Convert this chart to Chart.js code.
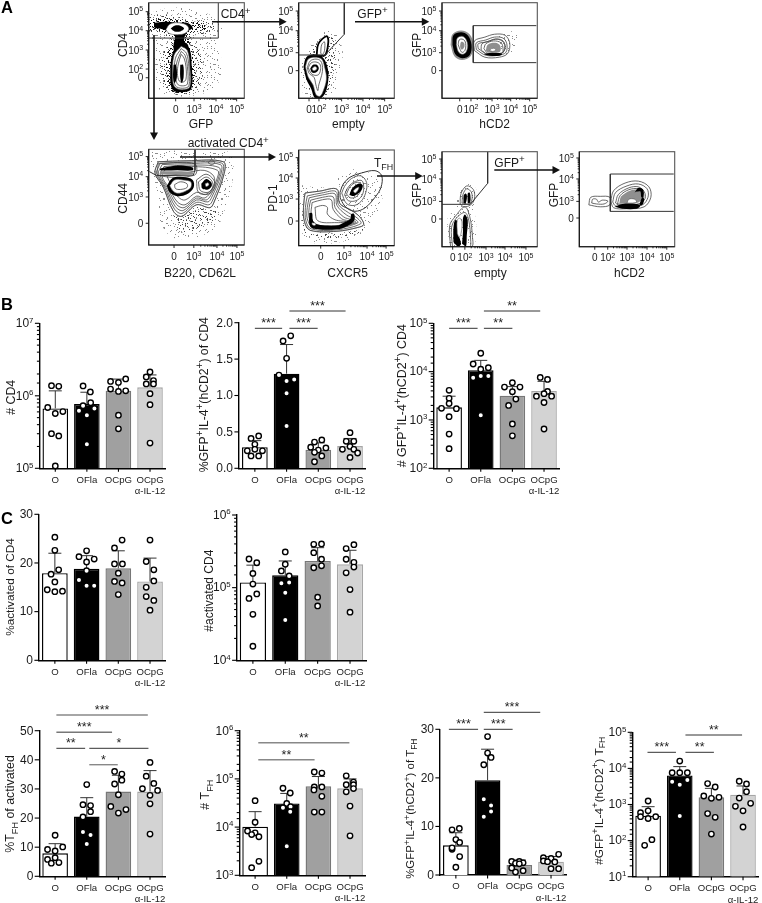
<!DOCTYPE html>
<html><head><meta charset="utf-8">
<style>html,body{margin:0;padding:0;background:#fff;width:762px;height:903px;overflow:hidden;position:relative}canvas{position:absolute;display:block}</style>
<script src="https://cdn.jsdelivr.net/npm/chart.js@4"></script>
</head><body>
<script>
// ---------- bar panel data ----------
const categories=['O','OFla','OCpG',['OCpG','α-IL-12']];
const b1Means=[6.7e5,7.7e5,1.17e6,1.31e6];
const b1Tops=[1.17e6,1.12e6,1.7e6,1.94e6];
const b1Dots=[[1.38e6,1.35e6,6.9e5,6.05e5,5.7e5,3.0e5,2.8e5,1.08e5],[1.37e6,1.13e6,8.05e5,7.3e5,6.7e5,6.2e5,5.4e5,2.14e5],[1.58e6,1.53e6,1.71e6,1.24e6,1.15e6,1.17e6,5.4e5,3.5e5],[2.13e6,1.82e6,1.62e6,1.46e6,1.46e6,1.07e6,7.55e5,2.23e5]];
const b1Offs=[[-.12,.11,-.24,.24,0,-.12,.11,0],[-.12,.11,.12,-.12,.24,-.25,0,0],[-.25,0,.23,-.25,0,.23,0,0],[0,-.12,.11,-.12,.11,0,0,0]];
const b2Means=[.29,1.30,.255,.305];
const b2Tops=[.38,1.70,.35,.41];
const b2Dots=[[.41,.445,.33,.24,.26,.24,.17,.17],[1.82,1.75,1.51,1.28,1.20,1.22,1.03,.58],[.39,.36,.29,.28,.25,.22,.17,.09],[.49,.37,.37,.26,.30,.26,.21,.15]];
const b2Offs=[[-.12,.12,0,-.24,0,.24,-.12,.12],[.13,-.11,0,-.24,0,.24,0,0],[.11,-.12,-.24,.24,0,-.12,.11,-.12],[0,-.12,.12,-.24,0,.12,.24,0]];
const b3Means=[1.83e3,1.07e4,3.18e3,3.98e3];
const b3Tops=[3.1e3,1.71e4,4.9e3,6.3e3];
const b3Dots=[[4.1e3,2.8e3,1.74e3,2.2e3,1.71e3,1.17e3,5.1e2,2.55e2],[2.4e4,1.44e4,1.12e4,1.21e4,7.5e3,8.1e3,8.1e3,1.25e3],[5.9e3,4.8e3,4.8e3,3.85e3,2.7e3,2.0e3,8.3e2,4.7e2],[7.6e3,6.9e3,3.9e3,3.1e3,3.5e3,3.1e3,2.3e3,6.5e2]];
const b3Offs=[[0,0,-.24,0,.23,0,0,0],[0,-.24,0,.24,-.24,0,.24,0],[0,-.25,.24,0,.11,-.12,0,0],[-.12,.11,.11,-.24,0,.24,0,0]];
const c1Means=[17.9,18.8,18.9,16.2];
const c1Tops=[22,21.5,22.5,21];
const c1Dots=[[25.3,22.6,18.6,17.7,16.1,14.5,14.1,14.2],[22.5,21.3,20.8,20.2,18.4,16.5,15.3,15.3],[24.7,23.1,19.8,19.8,17.9,16.2,15.9,13.5],[24.7,20.3,18.6,16.3,15,13.1,12.3,10.3]];
const c1Offs=[[0,0,.12,-.12,0,-.24,0,.24],[0,-.24,.24,0,0,-.24,0,.24],[.12,-.12,-.12,.13,0,-.12,.12,0],[0,-.12,.12,.12,-.12,-.12,.12,0]];
const c2Means=[1.18e5,1.48e5,2.33e5,2.1e5];
const c2Tops=[2.04e5,2.33e5,3.55e5,3.27e5];
const c2Dots=[[2.48e5,2.2e5,1.57e5,1.12e5,8.2e4,7.1e4,4.3e4,1.56e4],[3.1e5,2.1e5,1.7e5,1.45e5,1.15e5,1.18e5,8.5e4,3.6e4],[3.95e5,4e5,3.03e5,2.46e5,1.88e5,2e5,7.4e4,5.6e4],[3.9e5,3.45e5,2.46e5,2.23e5,1.92e5,1.6e5,9.4e4,4.6e4]];
const c2Offs=[[-.12,.12,0,0,.12,-.12,0,0],[0,0,-.12,.12,-.12,.12,0,0],[-.12,.12,-.12,.12,-.12,.12,0,0],[.12,-.12,-.12,.12,.12,-.12,0,0]];
const d1Means=[7.9,20.5,29.1,29.1];
const d1Tops=[11.2,27,34.7,36.3];
const d1Dots=[[14.1,10.1,9.2,8.7,5.8,6.4,4.5,4.7],[31.5,24.6,24.3,22.2,20.4,15.2,14.2,11.1],[36,35.1,33,31.7,28,24,22.9,21.7],[39.1,34.4,31.9,30.1,29.5,27.8,24.9,14.5]];
const d1Offs=[[0,.24,-.24,0,-.24,0,-.12,.12],[0,-.12,.12,.12,-.12,-.12,.12,0],[-.12,.11,.11,-.12,0,-.24,.24,0],[0,-.12,.12,-.24,.24,0,0,0]];
const d2Means=[1.02e4,3.1e4,7e4,6.4e4];
const d2Tops=[2.09e4,5e4,1.12e5,1e5];
const d2Dots=[[3.53e4,1.26e4,8.3e3,7.6e3,7e3,6.3e3,1.95e3,1.44e3],[6.4e4,5.1e4,3.1e4,2.53e4,2.65e4,2.09e4,4e3],[1.39e5,1.32e5,6.8e4,6.8e4,5.9e4,4.34e4,2.05e4,2.05e4],[1.16e5,7.6e4,8.6e4,7.6e4,6.3e4,5.4e4,2.73e4,6.6e3]];
const d2Offs=[[0,0,-.24,0,-.11,.12,.12,-.11],[-.12,.11,0,-.12,.12,.11,0],[-.13,.11,-.13,.11,-.14,.11,-.13,.11],[-.12,-.12,.11,.11,.11,-.12,0,0]];
const d3Means=[6.1,19.5,2.06,2.75];
const d3Tops=[8.7,25.9,3.1,3.8];
const d3Dots=[[9.3,9.6,7.3,5.3,5.6,6.7,3.8,1.6],[28.5,25.1,24.2,22.7,15.6,14.3,13.1,12],[2.8,2.8,2.5,2.4,2.3,.9,.6,1.45],[4.25,3.55,3.4,2.9,2.75,2.7,1.3,1.3]];
const d3Offs=[[-.12,.11,0,-.12,-.12,.12,.12,0],[0,0,.11,-.12,-.12,.11,.11,-.12],[-.24,0,.12,-.12,0,.12,-.12,-.24],[.24,-.24,0,-.24,-.11,.12,0,.24]];
const d4Means=[4.9e2,6.4e3,1.58e3,1.87e3];
const d4Tops=[8.7e2,1.12e4,2.8e3,3.26e3];
const d4Dots=[[1.25e3,6.7e2,5.9e2,4.6e2,4.1e2,4.6e2,1.06e2,7.4e1],[1.6e4,7.6e3,7.6e3,7.6e3,4.3e3,3.55e3,4.8e3,4.8e2],[3.8e3,3.05e3,1.72e3,1.48e3,1.58e3,5.6e2,4.4e2,1.52e2],[4.4e3,3.7e3,2.27e3,1.51e3,1.08e3,8.9e2,6.7e2,2.38e2]];
const d4Offs=[[0,0,-.24,-.24,0,.24,.12,-.11],[0,-.24,0,.24,-.24,0,.24,0],[-.12,.12,-.24,0,.24,-.12,.12,0],[-.12,.11,.11,-.12,.24,-.24,0,0]];

// ---------- flow cytometry panels: contour outlines, in percent of each axis ----------
const sup={2:'10^2',3:'10^3',4:'10^4',5:'10^5'};
const a1XTicks=[[28.2,'0'],[47.4,sup[3]],[70.4,sup[4]],[92,sup[5]]];
const a1YTicks=[[21.5,'0'],[30.6,sup[2]],[50.5,sup[3]],[70.7,sup[4]],[90.6,sup[5]]];
const a2XTicks=[[10.8,'0'],[21.2,sup[2]],[44.9,sup[3]],[67.2,sup[4]],[89.9,sup[5]]];
const a2YTicks=[[28.9,'0'],[47.7,sup[3]],[70.7,sup[4]],[91.3,sup[5]]];
const a3XTicks=[[18.6,'0'],[30.4,sup[2]],[52.5,sup[3]],[72.1,sup[4]],[92,sup[5]]];
const a3YTicks=[[28.9,'0'],[47.7,sup[3]],[70.7,sup[4]],[91.3,sup[5]]];
const a4XTicks=[[26.5,'0'],[47.2,sup[3]],[71.4,sup[4]],[92.3,sup[5]]];
const a4YTicks=[[22.7,'0'],[50.2,sup[3]],[71.4,sup[4]],[92.4,sup[5]]];
const a5XTicks=[[23,'0'],[47.4,sup[3]],[71.5,sup[4]],[91.4,sup[5]]];
const a5YTicks=[[25.7,'0'],[48.7,sup[3]],[70.7,sup[4]],[92,sup[5]]];
const a6XTicks=[[11.2,'0'],[24,sup[2]],[46.2,sup[3]],[66.1,sup[4]],[88.1,sup[5]]];
const a6YTicks=[[29.2,'0'],[47.7,sup[3]],[71.3,sup[4]],[92.3,sup[5]]];
const a7XTicks=[[16.2,'0'],[29.8,sup[2]],[50,sup[3]],[71,sup[4]],[91.7,sup[5]]];
const a7YTicks=[[30.2,'0'],[47.7,sup[3]],[71.3,sup[4]],[93.4,sup[5]]];

const a1Layers=[
['d1',[0,89,25,95,50,92,70,84,78,72,72,62,76,40,74,18,60,6,40,2,18,4,8,15,5,38,8,58,0,62]],
['d2',[0,86,22,88,42,82,66,80,68,70,45,65,46,60,55,45,55,15,42,5,25,5,14,18,13,42,22,62,8,68,0,70]],
['d3',[0,82,20,84,38,81,58,78,62,73,44,68,42,62,47,45,47,14,38,6,25,7,19,20,19,45,26,62,12,70,0,72]],
['k',[6,79,20,80,30,79,40,79,46,74,40,69,37,60,41,56,42,45,28,45,26,55,27,66,15,72,6,74]],
['k',[34,57,25,47,22.5,24,25,9,35,6.5,44.5,10,45,34,42.5,52]],
['w',[34,54.5,26.5,45,25,23,27,12,35,9,43,12,43,33,40.5,50]],
['l',[34,52,28,42,26.5,23,28,13,35,10.5,42,13,42,33,39.5,47]],
['l',[34,49,29.5,38,28,24,30,15,35,13,40.5,15,40.5,33,38,45]],
['l',[34,46,31,36,30,26,32,18,36,17,39,20,39,33,37,42]],
['k',[26,35,28.5,35,29.5,22,27,16,25.5,22]],
['k',[33,35,36,35,36.5,22,34.5,16,33,22]],
['w',[18,72,22,77.5,30,79,39,77,42,72.5,38,68,30,66.5,21,68]],
['k',[23,73,27,76,33,76,37,73,33,70,27,70]],
['gate',[0,63,72.8,63,72.8,100]]];
const a2Layers=[
['d1',[3,40,12,55,19,65,36,70,46,50,42,25,38,8,25,0,8,0,2,20]],
['d2',[8,42,16,56,22,62,34,66,38,50,37,30,31,6,20,2,10,10,6,28]],
['W',[18.8,45,20.6,57,29.3,65,31,59,27.5,45]],
['l',[23,47,24,56,27,59,27,50,25,46]],
['k',[5,33,8,43,16,46,25,43,30,33,31,20,28,6,23,0,17,0,13,10,8,20]],
['w',[7,33,10,41,17,43,24,41,27,33,29,20,25,6,22,2,18,4,15,14,10,22]],
['l',[9,32,12,39,18,41,23,39,25,32,24,24,21,14,20,8,18,14,16,22,11,26]],
['l',[10,32,13,37,18,38,22,36,23,31,21,25,17,24,13,26]],
['k',[12,31,15,35,19,35,21,31,18,27,14,27]],
['w',[14,31,16,33,18,33,19,31,17,29,15,29]],
['gate',[47.7,100,47.7,67,27.5,45.3,0,45.3]]];
const a3Layers=[
['g',[9,56,11,67,20,71,29,67,33,56,30,44,21,40,13,44]],
['k',[11,56,12,66,20,69,27,66,31,56,29,45,21,42,14,46]],
['w',[15,56,16,63,21,65,25,62,27,55,25,48,21,46,17,49]],
['l',[17,56,18,61,21,62,24,60,25,55,24,50,21,48,19,51]],
['g',[19,55,20,59,23,58,23.5,54,21,51,19.5,52]],
['d1',[60,50,70,46,78,55,79,68,70,70,60,65]],
['l',[34,50,34,60,45,64,55,67,66,66,71,58,69,47,60,43,45,43]],
['l',[36,51,36,58,46,61,55,64,64,63,68,57,67,48,59,45,46,45]],
['l',[38,52,38,57,47,59,56,62,63,60,66,56,65,49,58,46.5,47,46.5]],
['l',[41,51,42,57,50,60,58,62,64,60,66,54,63,47,57,46,47,46]],
['l',[44,52,46,57,54,60,62,58,64,52,63,47,56,46,48,47]],
['g',[46,50,48,56,56,58,61,55,61,49,55,48,48,48]],
['w',[50,50,52,52,56,52,56,50,53,49]],
['k',[44,46,50,44.5,60,44.5,63,46,60,47.5,50,47.5]],
['gate',[99,76,32.8,76,32.8,37.3,99,37.3]]];
const a4Layers=[
['d1',[0,97,15,99,50,97,85,97,88,70,82,45,72,20,50,8,25,8,12,25,10,50,3,80]],
['d2',[24,32,30,18,40,12,52,18,66,24,72,40,64,36,50,40,34.5,28,26,33]],
['w',[10,87,40,88,78,87,79,75,68,44,64,39,50,42,34.5,30,26,35,15,61,6.6,75]],
['l',[10,87,40,88,78,87,79,75,68,44,64,39,50,42,34.5,30,26,35,15,61,6.6,75]],
['l',[12,85.5,40,86.5,76.5,85.5,77,73,67,47,63,42,50,44.5,35,33,27,37.5,16.5,60.5,8.5,74.5]],
['l',[14,84,40,85,75,84,75,72,66,50,62,45,50,47,36,36,28,40,18,60,10,74]],
['l',[16,82,42,83.5,73.5,81,73,70,65,52,60,47,50,49,37,39,29,42.5,19.5,60,12,73]],
['l',[18,80,45,82,72,78,71,68,64,54,58,49,50,51,38,42,30,45,21,60,14,72]],
['l',[19,72,25,60,31,50,38,47,50,55,60,53,68,62,68,72,58,78,42,76]],
['l',[10,85,48,85,48,73,10,73]],
['k',[12,80,30,83,46,81,46,78,30,78,12,78]],
['g',[12,77,30,77,46,76,46,74,12,74]],
['k',[19,62,25,70,36,71,46,68,47,60,40,53,30,51,22,55]],
['w',[22,62,27,68,36,68,44,66,44,60,38,56,30,54,25,57]],
['l',[27,63,33,66,40,64,40,60,33,58,28,59]],
['l',[50,68,60,74,68,68,69,60,62,53,52,55]],
['l',[52,66,60,71,66,67,67,60,62,55,54,57]],
['k',[55,64,60,69,65,66,66,62,62,58,56,59]],
['w',[59,64,62,65,63,63,60,61]],
['l',[62,86,66,89,69,86,66,84]],
['gate',[48.4,100,48.4,78.4,46.7,73,8.4,72.5,0.7,76.7]]];
const a5Layers=[
['d1',[0,65,8,62,30,60,48,52,40,70,60,80,80,72,88,60,85,40,75,25,65,12,40,3,15,3,3,15]],
['d2',[3,30,5,15,15,10,40,8,65,14,72,22,68,18,40,13,12,14,5,25]],
['w',[6.6,55,22,57,40,59,43,44,55,37,64,30,68,22,62,19,40,15,12,16,6,25,5,40]],
['l',[6.6,55,22,57,40,59,43,44,55,37,64,30,68,22,62,19,40,15,12,16,6,25,5,40]],
['l',[9,52,24,55,39,56.5,41.5,43,52,34.5,61,29,65,23,40,16.5,13,17.5,7.5,26,7,40]],
['l',[11,50,25,53,38,54,40,42,50,32,58,28,62,24,40,18,15,19,9,28,9,40]],
['l',[12.5,47.5,25,50.5,36,51,38,40,47,30,55,27,60,24,40,19.5,16.5,20.5,11,29,11,40]],
['l',[14,45,25,48,34,48,36,38,45,28,52,26,58,24,40,21,18,22,13,30]],
['l',[17,40,25,42,30,40,30,33,38,27,50,25,40,24,20,26]],
['k',[11,34,14,34,15,26,20,22,30,21,40,21,47,24,54,28,55,33,58,33,58,26,50,20,40,17,20,17,12,20]],
['w',[14,24,18,23,17,21,14,22]],
['l',[45,55,48,62,55,70,65,73,71,66,70,55,65,46,58,42,50,44]],
['l',[48,53,51,60,57,66,66,68,68,60,66,52,60,47,52,47]],
['l',[50,54,54,62,60,66,65,65,65,58,60,51,54,50]],
['k',[53,53,56,60,63,65,67,63,65,57,58,52]],
['w',[57,57,60,60,63,61,62,58,59,55]],
['G',[43.2,55.7,46.7,64.5,53.7,71.5,65.9,76,79.8,78.4,86.8,73.2,86.1,61,79.8,50.5,69.3,39.4,58.9,35.9,50.2,39.4,43.9,48.8]]];
const a6Layers=[
['d1',[8,0,6,30,14,40,18,58,28,66,36,60,34,40,36,20,32,0]],
['l',[19,45,20,56,26,64,33,60,34,50,30,44,23,42]],
['l',[21,46,22,55,26,61,31,57,31,48,27,45]],
['k',[22.5,46,23,55,26,55,25,46]],
['k',[27,46,27,56,29,57,30,50,29,46]],
['l',[9,0,8,22,14,32,24,42,29,32,32,10,31,0]],
['l',[11,0,10,20,15,30,24,36,28,28,30,8,29,0]],
['k',[12,5,12,20,14,28,17,26,17,14,20,3,17,0]],
['k',[21,3,22,16,22,30,24,34,27,28,26,12,25,0]],
['w',[16,14,16,28,19,30,21,25,20,14,18,10]],
['gate',[47.9,100,47.9,66.7,29.7,44.6,0,44.6]]];
const a7Layers=[
['l',[10,44,12,52,22,53,32,52,32,44,22,42]],
['l',[13,46,14,50,18,50,20,47,24,49,30,48,26,45,18,45]],
['l',[33,48,36,59,48,67,62,69,73,63,75,52,68,42,50,40,36,41]],
['l',[35,47,38,57,50,64,62,66,71,61,72,52,66,44,50,42,38,43]],
['l',[38,46,41,55,52,62,62,63,68,58,69,51,63,45,50,44,41,44]],
['l',[40,45,43,54,52,60,62,61,67,57,67,50,62,45,50,45,42,45]],
['g',[42,46,44,53,53,59,61,60,66,56,66,50,60,46,50,46]],
['k',[37,42,45,40,60,40,64,43,60,45,45,45]],
['k',[58,57,62,62,67,60,67,52,65,52,64,58,60,58]],
['k',[63,44,66,52,68,50,66,44]],
['w',[50,46,52,50,58,50,60,47,56,46]],
['gate',[99,76.5,32.5,76.5,32.5,37.2,99,37.2]]];

// ---------- helpers ----------
function drawRich(ctx,text,x,y,size,opt){
  opt=opt||{};
  const fam='"Liberation Sans",Arial,sans-serif';
  const ss=opt.supScale||.82;
  const segs=[];const re=/\^(.)|_(FH)|([^^_]+)/g;let m;
  while((m=re.exec(text))){
    if(m[1])segs.push({t:m[1],s:size*ss,dy:-size*.38});
    else if(m[2])segs.push({t:m[2],s:size*.74,dy:size*.25});
    else segs.push({t:m[3],s:size,dy:0});
  }
  ctx.save();
  let w=0;segs.forEach(g=>{ctx.font=g.s+'px '+fam;g.w=ctx.measureText(g.t).width;w+=g.w;});
  ctx.translate(x,y);if(opt.rot)ctx.rotate(-Math.PI/2);
  ctx.textBaseline='alphabetic';ctx.textAlign='left';ctx.fillStyle=opt.color||'#1a1a1a';
  let cx=opt.left?0:opt.right?-w:-w/2;const by=opt.baseline?0:size*.36;
  segs.forEach(g=>{ctx.font=g.s+'px '+fam;ctx.fillText(g.t,cx,by+g.dy);cx+=g.w;});
  ctx.restore();
}
const FONT='"Liberation Sans",Arial,sans-serif';
const isDecade=v=>{const l=Math.log10(v);return Math.abs(l-Math.round(l))<1e-6;};
function addCanvas(l,t,w,h){const c=document.createElement('canvas');c.width=w;c.height=h;c.style.left=l+'px';c.style.top=t+'px';c.style.width=w+'px';c.style.height=h+'px';document.body.appendChild(c);return c;}

const BAR_FILL=['#ffffff','#000000','#a0a0a0','#d3d3d3'];
const BAR_EDGE=['#000000','#000000','#777777','#a6a6a6'];

function barPanel(p){
  const ML=46,MT=44,MB=42,MR=3;
  const cl=Math.floor(p.L)-ML,ct=Math.floor(p.T)-MT;
  const w=Math.ceil(p.R)-cl+MR,h=Math.ceil(p.B)-ct+MB;
  const c=addCanvas(cl,ct,w,h);
  const log=p.type==='log';
  const pts=[];p.dots.forEach((g,i)=>g.forEach((v,j)=>pts.push({x:i+p.offs[i][j],y:v})));
  const deco={id:'deco',
    beforeDatasetDraw(ch,a){
      if(a.meta.type!=='scatter')return;
      const x=ch.scales.x,y=ch.scales.y,ctx=ch.ctx;ctx.save();ctx.strokeStyle='#333';ctx.lineWidth=1;
      p.means.forEach((m,i)=>{const px=x.getPixelForTick(i),a0=y.getPixelForValue(m),a1=y.getPixelForValue(p.tops[i]);
        ctx.beginPath();ctx.moveTo(px,a0);ctx.lineTo(px,a1);ctx.moveTo(px-6.5,a1);ctx.lineTo(px+6.5,a1);ctx.stroke();});
      ctx.restore();
    },
    afterDraw(ch){
      const x=ch.scales.x,y=ch.scales.y,xd=ch.scales.xd,ctx=ch.ctx,A=ch.chartArea;ctx.save();ctx.strokeStyle='#000';ctx.lineWidth=1.1;
      y.ticks.forEach(t=>{const py=y.getPixelForValue(t.value),maj=!log||isDecade(t.value),len=maj?4.6:2.6;
        ctx.beginPath();ctx.moveTo(A.left-len,py);ctx.lineTo(A.left,py);ctx.stroke();
        if(maj){const lab=log?'10^'+Math.round(Math.log10(t.value)):(p.dec?t.value.toFixed(p.dec):String(t.value));
          drawRich(ctx,lab,A.left-6,py-.5,12,{right:true,supScale:.66});}});
      x.ticks.forEach((t,i)=>{const px=x.getPixelForTick(i);ctx.beginPath();ctx.moveTo(px,A.bottom);ctx.lineTo(px,A.bottom+3.5);ctx.stroke();});
      (p.brackets||[]).forEach(b=>{const x0=xd.getPixelForValue(b[0]),x1=xd.getPixelForValue(b[1]),py=b[3]-ct;
        ctx.strokeStyle=b[4]||'#333';ctx.lineWidth=b[4]?1.4:1;ctx.beginPath();ctx.moveTo(x0,py);ctx.lineTo(x1,py);ctx.stroke();
        ctx.font='12.5px '+FONT;ctx.fillStyle='#222';ctx.textAlign='center';ctx.textBaseline='alphabetic';ctx.fillText(b[2],(x0+x1)/2,py-1);});
      ctx.restore();
      drawRich(ctx,p.title,p.tx-cl,p.ty-ct,p.ts||11.8,{rot:true});
    }};
  new Chart(c,{type:'bar',
    data:{labels:categories,datasets:[
      {type:'bar',data:p.means,backgroundColor:BAR_FILL,borderColor:BAR_EDGE,borderWidth:1.4,barPercentage:.81,categoryPercentage:1,grouped:false,order:2},
      {type:'scatter',data:pts,xAxisID:'xd',yAxisID:'y',showLine:false,pointRadius:2.7,pointBorderWidth:1.4,pointBackgroundColor:'#fff',pointBorderColor:'#000',order:1,clip:false}
    ]},
    plugins:[deco],
    options:{responsive:false,animation:false,events:[],
      layout:{padding:{top:p.T-ct,right:w-(p.R-cl),left:0,bottom:0}},
      plugins:{legend:{display:false},tooltip:{enabled:false},title:{display:false}},
      scales:{
        x:{type:'category',offset:true,border:{color:'#000',width:1.4},grid:{display:false,drawTicks:false},
          afterFit(s){s.height=h-(p.B-ct);},
          ticks:{color:'#222',font:{size:9.6,family:FONT},padding:6,maxRotation:0,autoSkip:false}},
        xd:{type:'linear',display:false,offset:false,min:-.5,max:3.5},
        y:{type:log?'logarithmic':'linear',min:p.min,max:p.max,border:{color:'#000',width:1.4},grid:{display:false,drawTicks:false},
          afterFit(s){s.width=p.L-cl;},
          ticks:{display:false,autoSkip:false,stepSize:p.step}}
      }}});
}

// stipple tiles for the speckled event clouds
const TILE=[[2,3],[9,1],[15,6],[22,2],[27,9],[5,11],[12,14],[19,12],[25,17],[1,19],[8,22],[16,20],[23,25],[4,27],[13,27],[20,7],[10,8],[27,23]];
function tile(shifts,col){const t=document.createElement('canvas');t.width=t.height=29;const g=t.getContext('2d');g.fillStyle=col;
  shifts.forEach(s=>TILE.forEach(d=>g.fillRect((d[0]+s[0])%29,(d[1]+s[1])%29,1,1)));return g.createPattern(t,'repeat');}
const PAT={d1:tile([[0,0],[14,9],[7,17],[21,13]],'#8c8c8c'),
  d2:tile([[0,0],[3,1],[1,4],[5,2],[2,7],[7,5]],'#444'),
  d3:tile([[0,0],[3,1],[1,4],[5,2],[2,7],[7,5],[9,3],[4,9],[11,6],[6,11],[13,2],[1,13],[8,8],[12,12]],'#111')};
function toPts(a){const r=[];for(let i=0;i<a.length;i+=2)r.push({x:a[i],y:a[i+1]});return r;}

function flowPanel(p){
  const ML=40,MT=3,MB=36,MR=3;
  const cl=Math.floor(p.L)-ML,ct=Math.floor(p.T)-MT;
  const w=Math.ceil(p.R)-cl+MR,h=Math.ceil(p.B)-ct+MB;
  const c=addCanvas(cl,ct,w,h);
  const ds=p.layers.map((ly,i)=>{
    const k=ly[0],open=k==='gate';let pts=toPts(ly[1]);if(!open)pts=pts.concat(pts[0]);
    const s={data:pts,pointRadius:0,order:p.layers.length-i,tension:open?0:.35,borderWidth:0,borderColor:'rgba(0,0,0,0)',fill:false,backgroundColor:'rgba(0,0,0,0)'};
    if(PAT[k]){s.fill='shape';s.backgroundColor=PAT[k];}
    if(k==='k'){s.fill='shape';s.backgroundColor='#000';}
    if(k==='w'){s.fill='shape';s.backgroundColor='#fff';s.borderColor='#555';s.borderWidth=.6;}
    if(k==='W'){s.fill='shape';s.backgroundColor='#fff';s.borderColor='#000';s.borderWidth=1.8;}
    if(k==='g'){s.fill='shape';s.backgroundColor='#8f8f8f';}
    if(k==='l'){s.borderColor='#444';s.borderWidth=.8;}
    if(k==='gate'||k==='G'){s.borderColor='#333';s.borderWidth=1;}
    return s;});
  const deco={id:'deco',afterDraw(ch){
    const ctx=ch.ctx,A=ch.chartArea,x=ch.scales.x,y=ch.scales.y;ctx.save();
    ctx.strokeStyle='#555';ctx.lineWidth=1.1;ctx.strokeRect(A.left,A.top,A.right-A.left,A.bottom-A.top);
    ctx.strokeStyle='#111';ctx.lineWidth=1.1;ctx.beginPath();ctx.moveTo(A.left,A.top);ctx.lineTo(A.left,A.bottom);ctx.lineTo(A.right,A.bottom);ctx.stroke();
    ctx.lineWidth=.9;
    const draw=(scale,list,horiz)=>{const mj=list.filter(t=>t[1]!=='0');
      const mark=(v,len)=>{const q=scale.getPixelForValue(v);ctx.beginPath();if(horiz){ctx.moveTo(q,A.bottom);ctx.lineTo(q,A.bottom+len);}else{ctx.moveTo(A.left,q);ctx.lineTo(A.left-len,q);}ctx.stroke();};
      list.forEach(t=>{mark(t[0],3);const q=scale.getPixelForValue(t[0]);
        if(horiz)drawRich(ctx,t[1],q,A.bottom+11,10,{supScale:.7});else drawRich(ctx,t[1],A.left-5.5,q,10,{right:true,supScale:.7});});
      for(let i=0;i+1<mj.length;i++)[.3,.48,.6,.7,.78,.85,.9,.95].forEach(f=>mark(mj[i][0]+(mj[i+1][0]-mj[i][0])*f,1.6));};
    draw(x,p.xt,true);draw(y,p.yt,false);ctx.restore();
    drawRich(ctx,p.xTitle,p.xtx-cl,p.xty-ct,12);
    drawRich(ctx,p.yTitle,p.ytx-cl,p.yty-ct,12,{rot:true});
  }};
  const axis=(list,isX)=>({type:'linear',min:0,max:100,border:{display:false},grid:{display:false,drawTicks:false},
    afterBuildTicks(s){s.ticks=list.map(t=>({value:t[0]}));},
    afterFit(s){if(isX)s.height=h-(p.B-ct);else s.width=p.L-cl;},
    ticks:{display:false,autoSkip:false}});
  new Chart(c,{type:'line',data:{datasets:ds},plugins:[deco],
    options:{responsive:false,animation:false,events:[],
      layout:{padding:{top:p.T-ct,right:w-(p.R-cl),left:0,bottom:0}},
      plugins:{legend:{display:false},tooltip:{enabled:false}},
      scales:{x:axis(p.xt,true),y:axis(p.yt,false)}}});
}

// ---------- flow panels ----------
flowPanel({L:148.7,R:244.3,T:2.7,B:98.3,layers:a1Layers,xt:a1XTicks,yt:a1YTicks,xTitle:'GFP',xtx:201,xty:123.3,yTitle:'CD4',ytx:122.7,yty:45});
flowPanel({L:298.7,R:394.3,T:2.7,B:98.3,layers:a2Layers,xt:a2XTicks,yt:a2YTicks,xTitle:'empty',xtx:348.3,xty:123.3,yTitle:'GFP',ytx:272.7,yty:45});
flowPanel({L:442,R:537.3,T:2.7,B:98.3,layers:a3Layers,xt:a3XTicks,yt:a3YTicks,xTitle:'hCD2',xtx:494.7,xty:123.3,yTitle:'GFP',ytx:416.7,yty:45});
flowPanel({L:148.7,R:244.3,T:149.3,B:245,layers:a4Layers,xt:a4XTicks,yt:a4YTicks,xTitle:'B220, CD62L',xtx:200,xty:272.7,yTitle:'CD44',ytx:122.7,yty:198.3});
flowPanel({L:298.7,R:394.3,T:150,B:245.6,layers:a5Layers,xt:a5XTicks,yt:a5YTicks,xTitle:'CXCR5',xtx:347.7,xty:272.7,yTitle:'PD-1',ytx:272.7,yty:198});
flowPanel({L:442,R:537.3,T:151.7,B:246.7,layers:a6Layers,xt:a6XTicks,yt:a6YTicks,xTitle:'empty',xtx:490.3,xty:272.7,yTitle:'GFP',ytx:416.7,yty:195});
flowPanel({L:579.3,R:674.7,T:151.7,B:246.7,layers:a7Layers,xt:a7XTicks,yt:a7YTicks,xTitle:'hCD2',xtx:629.3,xty:272.7,yTitle:'GFP',ytx:553.7,yty:195});

// ---------- bar panels ----------
barPanel({L:39.5,R:168.3,T:323.3,B:468.3,type:'log',min:1e5,max:1e7,means:b1Means,tops:b1Tops,dots:b1Dots,offs:b1Offs,title:'# CD4',tx:10.7,ty:397.3,ts:12.4});
barPanel({L:239,R:368.3,T:322.7,B:468.3,type:'linear',min:0,max:2,step:.5,dec:1,means:b2Means,tops:b2Tops,dots:b2Dots,offs:b2Offs,title:'%GFP^+IL-4^+(hCD2^+) of CD4',tx:203.3,ty:394.7,ts:12.2,
  brackets:[[0,.86,'***',328.3],[1.09,1.98,'***',328.3],[1.09,2.86,'***',311]]});
barPanel({L:433.3,R:562.7,T:323.3,B:468.3,type:'log',min:1e2,max:1e5,means:b3Means,tops:b3Tops,dots:b3Dots,offs:b3Offs,title:'# GFP^+IL-4^+(hCD2^+) CD4',tx:401.7,ty:395.7,ts:12.4,
  brackets:[[0,.9,'***',328.3],[1.1,2,'**',328.3],[1.1,2.88,'**',311]]});
barPanel({L:39,R:168.3,T:514.3,B:660.3,type:'linear',min:0,max:30,step:10,means:c1Means,tops:c1Tops,dots:c1Dots,offs:c1Offs,title:'%activated of CD4',tx:10,ty:587});
barPanel({L:236.7,R:368.3,T:515,B:660.3,type:'log',min:1e4,max:1e6,means:c2Means,tops:c2Tops,dots:c2Dots,offs:c2Offs,title:'#activated CD4',tx:208.3,ty:590.7,ts:12});
barPanel({L:39.3,R:168.3,T:730.7,B:876.3,type:'linear',min:0,max:50,step:10,means:d1Means,tops:d1Tops,dots:d1Dots,offs:d1Offs,title:'%T_FH of activated',tx:10,ty:804,ts:12.4,
  brackets:[[.04,2.93,'***',715,'#888'],[.04,1.8,'***',732.3,'#777'],[.04,.95,'**',748.3],[1.08,2.95,'*',748.3],[1.08,1.98,'*',764.7,'#888']]});
barPanel({L:239.3,R:368.3,T:730.7,B:875.3,type:'log',min:1e3,max:1e6,means:d2Means,tops:d2Tops,dots:d2Dots,offs:d2Offs,title:'# T_FH',tx:205,ty:794.7,ts:12.4,
  brackets:[[.1,2.98,'**',742.7,'#888'],[.1,1.88,'**',759.7,'#888']]});
barPanel({L:440,R:569.7,T:729.3,B:875,type:'linear',min:0,max:30,step:10,means:d3Means,tops:d3Tops,dots:d3Dots,offs:d3Offs,title:'%GFP^+IL-4^+(hCD2^+) of T_FH',tx:410,ty:808.7,ts:11.4,
  brackets:[[-.22,.7,'***',729.3],[.88,1.79,'***',729.3],[.88,2.66,'***',712.3]]});
barPanel({L:632.3,R:761.3,T:732.3,B:876.7,type:'log',min:1e1,max:1e5,means:d4Means,tops:d4Tops,dots:d4Dots,offs:d4Offs,title:'#GFP^+IL-4^+(hCD2^+) T_FH',tx:598.3,ty:800.7,ts:11.8,
  brackets:[[-.02,.88,'***',752.3],[1.18,2.08,'**',752.3],[1.18,2.97,'**',735]]});

// ---------- overlay: panel letters, gate labels, flow arrows ----------
(function(){
  const c=addCanvas(0,0,762,903);c.style.pointerEvents='none';const g=c.getContext('2d');
  g.fillStyle='#000';g.font='bold 16.5px '+FONT;g.textBaseline='alphabetic';g.textAlign='left';
  g.fillText('A',1,13);g.fillText('B',1,310);g.fillText('C',1,524);
  function arrow(x0,y0,x1,y1){const a=Math.atan2(y1-y0,x1-x0);g.strokeStyle='#111';g.fillStyle='#111';g.lineWidth=1.6;
    g.beginPath();g.moveTo(x0,y0);g.lineTo(x1-6*Math.cos(a),y1-6*Math.sin(a));g.stroke();
    g.save();g.translate(x1,y1);g.rotate(a);g.beginPath();g.moveTo(0,0);g.lineTo(-7.5,-4);g.lineTo(-7.5,4);g.closePath();g.fill();g.restore();}
  arrow(212,21.7,286.7,21.7);
  arrow(355,21.7,429.3,21.7);
  arrow(154,35,154,140);
  arrow(180,157,276,157);
  arrow(377,176,422.7,176);
  arrow(494.3,170,560,170);
  drawRich(g,'CD4^+',220.7,18.3,12,{left:true,baseline:true});
  drawRich(g,'GFP^+',357.3,17.7,12,{left:true,baseline:true});
  drawRich(g,'activated CD4^+',187.7,147.3,12,{left:true,baseline:true});
  drawRich(g,'T_FH',374,167.3,12,{left:true,baseline:true});
  drawRich(g,'GFP^+',494.3,166.7,12,{left:true,baseline:true});
})();
</script>
</body></html>
